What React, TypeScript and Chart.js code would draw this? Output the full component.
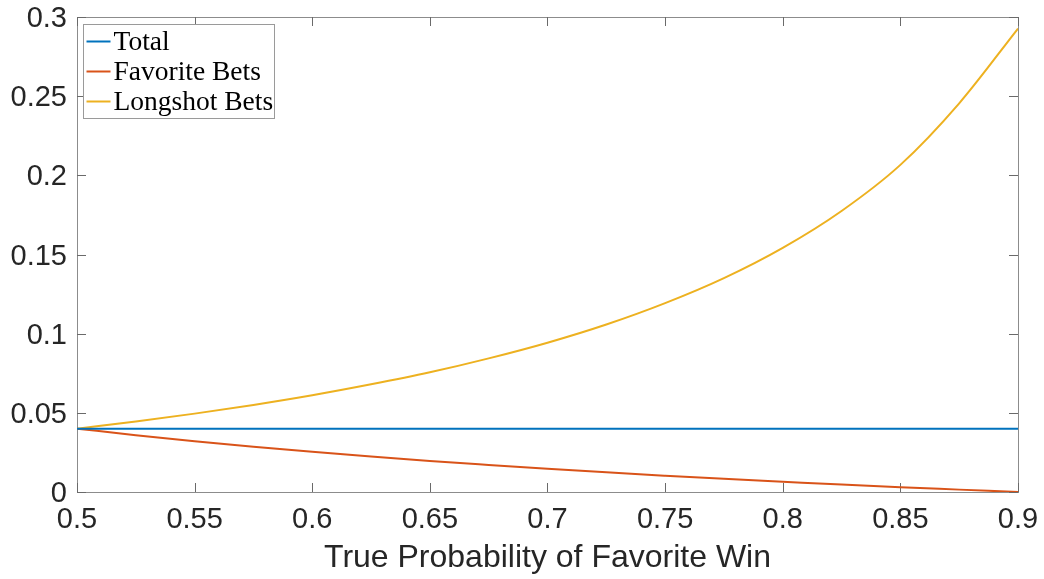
import React, { useEffect, useRef } from "react";
import { Chart, registerables } from "chart.js";

Chart.register(...registerables);

// ---- Data ----
const probabilities = [
  0.5, 0.525, 0.55, 0.575, 0.6, 0.625, 0.65, 0.675, 0.7,
  0.725, 0.75, 0.775, 0.8, 0.825, 0.85, 0.875, 0.9,
];
const totalValues = [
  0.04, 0.04, 0.04, 0.04, 0.04, 0.04, 0.04, 0.04, 0.04,
  0.04, 0.04, 0.04, 0.04, 0.04, 0.04, 0.04, 0.04,
];
const favoriteValues = [
  0.04, 0.0359, 0.0321, 0.0286, 0.0254, 0.0224, 0.0196, 0.0171, 0.0147,
  0.0124, 0.0103, 0.0083, 0.0065, 0.0047, 0.003, 0.0015, 0.0,
];
const longshotValues = [
  0.04, 0.0445, 0.0495, 0.055, 0.0611, 0.068, 0.0756, 0.0844, 0.0943,
  0.1058, 0.1193, 0.1351, 0.1542, 0.1775, 0.2066, 0.2455, 0.2927,
];
const seriesLabels = ["Total", "Favorite Bets", "Longshot Bets"];
const seriesColors = ["#0072BD", "#D95319", "#EDB120"];
const xTickValues = [0.5, 0.55, 0.6, 0.65, 0.7, 0.75, 0.8, 0.85, 0.9];
const yTickValues = [0, 0.05, 0.1, 0.15, 0.2, 0.25, 0.3];
const xAxisTitle = "True Probability of Favorite Win";

const fmt = (v: number) => String(Number(v.toFixed(4)));
const sansFamily = '"Liberation Sans", Arial, sans-serif';

const framePlugin = {
  id: "matlabFrame",
  beforeDatasetsDraw(chart: any) {
    const { ctx, chartArea, scales } = chart;
    const { left, right, top, bottom } = chartArea;
    ctx.save();
    ctx.lineWidth = 1;
    ctx.strokeStyle = "#8c8c8c";
    ctx.strokeRect(left + 0.5, top + 0.5, right - left, bottom - top);
    ctx.strokeStyle = "#6a6a6a";
    const tl = 9;
    ctx.beginPath();
    for (const v of xTickValues) {
      const px = Math.round(scales.x.getPixelForValue(v)) + 0.5;
      ctx.moveTo(px, bottom);
      ctx.lineTo(px, bottom - tl);
      ctx.moveTo(px, top);
      ctx.lineTo(px, top + tl);
    }
    for (const v of yTickValues) {
      const py = Math.round(scales.y.getPixelForValue(v)) + 0.5;
      ctx.moveTo(left, py);
      ctx.lineTo(left + tl, py);
      ctx.moveTo(right, py);
      ctx.lineTo(right - tl, py);
    }
    ctx.stroke();
    ctx.restore();
  },
  afterDraw(chart: any) {
    const { ctx, chartArea } = chart;
    const lx = chartArea.left + 6.5;
    const ly = chartArea.top + 7.5;
    const lw = 191;
    const lh = 94;
    ctx.save();
    ctx.fillStyle = "#ffffff";
    ctx.fillRect(lx, ly, lw, lh);
    ctx.strokeStyle = "#9a9a9a";
    ctx.lineWidth = 1;
    ctx.strokeRect(lx, ly, lw, lh);
    ctx.font = '27.5px "Liberation Serif", "DejaVu Serif", serif';
    ctx.textBaseline = "middle";
    ctx.textAlign = "left";
    chart.data.datasets.forEach((ds: any, i: number) => {
      const cy = ly + 17 + i * 30;
      ctx.strokeStyle = ds.borderColor;
      ctx.lineWidth = 2;
      ctx.beginPath();
      ctx.moveTo(lx + 3, cy);
      ctx.lineTo(lx + 27, cy);
      ctx.stroke();
      ctx.fillStyle = "#000000";
      ctx.fillText(ds.label, lx + 30, cy + 1);
    });
    ctx.restore();
  },
};

const zeroPadding = (scale: any) => {
  scale.paddingTop = 0;
  scale.paddingBottom = 0;
  scale.paddingLeft = 0;
  scale.paddingRight = 0;
};

export default function App() {
  const canvasRef = useRef<HTMLCanvasElement | null>(null);

  useEffect(() => {
    const canvas = canvasRef.current;
    if (!canvas) return;
    const seriesValues = [totalValues, favoriteValues, longshotValues];
    const chart = new Chart(canvas, {
      type: "line",
      data: {
        datasets: seriesValues.map((vals, i) => ({
          label: seriesLabels[i],
          data: probabilities.map((p, j) => ({ x: p, y: vals[j] })),
          borderColor: seriesColors[i],
          backgroundColor: seriesColors[i],
          borderWidth: 2,
          pointRadius: 0,
          fill: false,
          cubicInterpolationMode: "monotone" as const,
        })),
      },
      options: {
        responsive: false,
        animation: false,
        layout: { padding: { top: 17, right: 26, left: 0, bottom: 0 } },
        plugins: {
          legend: { display: false },
          tooltip: { enabled: false },
        },
        scales: {
          x: {
            type: "linear",
            min: 0.5,
            max: 0.9,
            afterBuildTicks: (scale: any) => {
              scale.ticks = xTickValues.map((v) => ({ value: v }));
            },
            afterFit: (scale: any) => {
              scale.height = 87;
              zeroPadding(scale);
            },
            grid: { display: false, drawTicks: false },
            border: { display: false },
            ticks: {
              callback: (v: any) => fmt(Number(v)),
              color: "#262626",
              font: { family: sansFamily, size: 29 },
              padding: 11,
              maxRotation: 0,
              autoSkip: false,
            },
            title: {
              display: true,
              text: xAxisTitle,
              color: "#262626",
              font: { family: sansFamily, size: 32 },
              padding: { top: 0, bottom: 2 },
            },
          },
          y: {
            type: "linear",
            min: 0,
            max: 0.3,
            afterBuildTicks: (scale: any) => {
              scale.ticks = yTickValues.map((v) => ({ value: v }));
            },
            afterFit: (scale: any) => {
              scale.width = 77;
              zeroPadding(scale);
            },
            grid: { display: false, drawTicks: false },
            border: { display: false },
            ticks: {
              callback: (v: any) => fmt(Number(v)),
              color: "#262626",
              font: { family: sansFamily, size: 29 },
              padding: 10,
              labelOffset: 2,
              autoSkip: false,
            },
          },
        },
      },
      plugins: [framePlugin],
    } as any);
    return () => chart.destroy();
  }, []);

  return (
    <div style={{ position: "absolute", left: 0, top: 0, width: 1044, height: 579, background: "#fff" }}>
      <canvas ref={canvasRef} width={1044} height={579} />
    </div>
  );
}
